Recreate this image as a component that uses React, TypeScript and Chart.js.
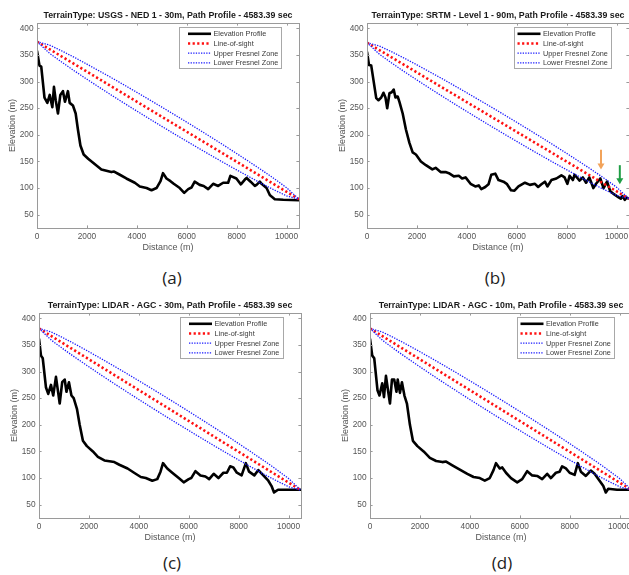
import React, { useEffect, useRef } from "react";
import { Chart, registerables } from "chart.js";

Chart.register(...registerables);

// ---------- data ----------
const TITLES = [
  "TerrainType: USGS - NED 1 - 30m, Path Profile - 4583.39 sec",
  "TerrainType: SRTM - Level 1 - 90m, Path Profile - 4583.39 sec",
  "TerrainType: LIDAR - AGC - 30m, Path Profile - 4583.39 sec",
  "TerrainType: LIDAR - AGC - 10m, Path Profile - 4583.39 sec",
];
const PANEL_TAGS = ["(a)", "(b)", "(c)", "(d)"];
const LEGEND_LABELS = ["Elevation Profile", "Line-of-sight", "Upper Fresnel Zone", "Lower Fresnel Zone"];
const X_LABEL = "Distance (m)";
const Y_LABEL = "Elevation (m)";
const X_TICKS = [0, 2000, 4000, 6000, 8000, 10000];
const Y_TICKS = [50, 100, 150, 200, 250, 300, 350, 400];

const A_DIST = [0,100,170,300,415,510,615,680,750,840,935,1040,1120,1240,1310,1440,1550,1640,1740,1870,2050,2310,2580,2980,3090,3320,3580,3920,4120,4390,4590,4790,4950,5050,5190,5350,5480,5720,5900,6060,6190,6320,6520,6680,6860,7060,7260,7460,7660,7750,7990,8170,8330,8400,8560,8730,8800,8930,9000,9200,9330,9400,9530,9870,10500];
const A_ELEV = [358,330,328,270,260,275,252,290,265,240,275,282,262,282,260,255,240,210,180,163,155,145,135,130,131,125,118,110,103,100,96,100,113,128,118,113,108,100,91,98,101,112,106,104,98,108,104,110,110,123,118,107,116,119,112,104,106,112,108,100,87,84,79,78,77];

const B_DIST = [0,80,170,370,460,570,660,740,810,900,990,1070,1140,1230,1300,1430,1560,1700,1830,1960,2160,2360,2620,2750,2950,3150,3280,3480,3680,3810,3950,4150,4340,4480,4580,4740,4870,4980,5140,5270,5470,5600,5770,5910,6070,6330,6530,6730,6860,6990,7130,7230,7390,7590,7790,7920,8030,8120,8250,8320,8520,8650,8780,8910,9070,9180,9350,9480,9620,9750,9910,10070,10170,10240,10330,10410,10500];
const B_ELEV = [356,331,330,269,265,270,279,270,250,278,280,285,270,272,262,240,210,185,167,163,150,143,135,138,130,130,128,122,123,118,120,108,103,105,98,102,107,125,127,115,112,108,96,95,103,110,106,108,102,107,112,103,115,118,124,120,108,123,115,125,114,120,110,120,100,108,118,100,112,94,88,83,80,85,78,82,80];

const C_DIST = [0,80,150,280,370,480,570,680,770,830,930,1030,1100,1200,1300,1390,1520,1630,1760,1920,2160,2360,2620,2890,3020,3220,3550,3810,4080,4280,4540,4740,4870,4970,5140,5340,5600,5800,6000,6100,6270,6470,6670,6820,7000,7190,7390,7530,7660,7790,7930,8120,8290,8420,8630,8790,8990,9190,9320,9420,9580,9970,10500];
const C_ELEV = [362,330,325,270,258,275,255,290,260,240,280,285,262,280,255,250,230,200,170,160,150,140,133,131,130,125,118,110,102,100,95,98,112,128,118,110,100,92,98,100,113,105,103,98,108,100,110,110,122,120,110,105,128,112,105,115,105,95,85,73,78,78,78];

const D_DIST = [0,90,170,300,380,490,560,640,730,800,880,970,1060,1110,1200,1280,1380,1480,1600,1720,1900,2150,2400,2650,2900,3050,3300,3600,3900,4150,4400,4600,4800,4950,5050,5200,5300,5450,5650,5900,6100,6300,6500,6700,6900,7100,7250,7450,7600,7700,7850,8000,8200,8330,8450,8650,8850,9000,9200,9350,9450,9550,9900,10500];
const D_ELEV = [362,330,325,265,255,278,252,292,262,240,285,285,262,285,260,280,255,240,200,170,160,150,138,132,130,131,124,116,108,102,100,95,100,115,128,118,120,110,100,92,98,113,105,104,98,108,100,110,112,122,118,110,106,128,112,104,114,108,95,85,73,80,78,78];

const LOS_DIST = [0, 10500];
const A_LOS = [375, 79];
const B_LOS = [373, 80];
const CD_LOS = [381, 77];

const FZ_DIST = [0,500,1000,1500,2000,2500,3000,3500,4000,4500,5000,5500,6000,6500,7000,7500,8000,8500,9000,9500,10000,10500];
const A_UPPER = [375,368.6,357.4,345.4,332.8,319.9,306.8,293.4,279.8,266.0,252.1,238.0,223.8,209.4,194.8,180.0,164.9,149.6,134.0,117.8,100.8,79];
const A_LOWER = [375,353.2,336.2,320.0,304.4,289.1,274.0,259.2,244.6,230.2,215.9,201.8,188.0,174.2,160.6,147.2,134.1,121.2,108.6,96.6,85.4,79];
const B_UPPER = [373,366.7,355.7,343.8,331.4,318.6,305.7,292.4,279.0,265.3,251.6,237.6,223.5,209.2,194.8,180.1,165.2,150.0,134.6,118.5,101.7,80];
const B_LOWER = [373,351.3,334.5,318.4,303.0,287.8,272.9,258.2,243.8,229.5,215.4,201.4,187.7,174.0,160.6,147.3,134.4,121.6,109.2,97.3,86.3,80];
const CD_UPPER = [381,374.2,362.6,350.3,337.3,324.0,310.5,296.8,282.8,268.6,254.3,239.9,225.2,210.4,195.4,180.3,164.8,149.1,133.1,116.6,99.2,77];
const CD_LOWER = [381,358.8,341.4,324.9,308.9,293.2,277.7,262.6,247.6,232.8,218.1,203.7,189.4,175.2,161.2,147.5,134.0,120.7,107.7,95.4,83.8,77];

// arrows in panel (b): [distance, tail elevation, head elevation]
const B_ARROW_ORANGE = [9377, 172, 135];
const B_ARROW_GREEN = [10132, 143, 107];

// ---------- styling ----------
const FONT = "'Liberation Sans', Arial, sans-serif";
const TICK_COLOR = "#555555";
const CW = 310;
const CH = 258;

const STYLES = [
  { color: "#000000", width: 2.6, dash: [] as number[] },
  { color: "#ff1010", width: 2.6, dash: [2.2, 2.4] },
  { color: "#1a1aff", width: 1.3, dash: [1.3, 1.3] },
  { color: "#1a1aff", width: 1.3, dash: [1.3, 1.3] },
];

function pts(xs: number[], ys: number[]) {
  const n = Math.min(xs.length, ys.length);
  const out: { x: number; y: number }[] = [];
  for (let i = 0; i < n; i++) out.push({ x: xs[i], y: ys[i] });
  return out;
}

type PanelProps = {
  left: number;
  top: number;
  title: string;
  dist: number[];
  elev: number[];
  los: number[];
  upper: number[];
  lower: number[];
  legendW: number;
  legendPad: number;
  arrows?: { v: number[]; color: string }[];
};

function Panel(p: PanelProps) {
  const ref = useRef<HTMLCanvasElement>(null);
  useEffect(() => {
    const framePlugin = {
      id: "frame",
      afterDatasetsDraw(chart: any) {
        const { ctx, chartArea: a, scales } = chart;
        ctx.save();
        ctx.strokeStyle = "#9a9a9a";
        ctx.lineWidth = 1;
        ctx.setLineDash([]);
        ctx.strokeRect(Math.round(a.left) + 0.5, Math.round(a.top) + 0.5, Math.round(a.right - a.left), Math.round(a.bottom - a.top));
        const tl = 2.6;
        ctx.beginPath();
        for (const t of scales.x.ticks) {
          const x = Math.round(scales.x.getPixelForValue(t.value)) + 0.5;
          ctx.moveTo(x, a.bottom); ctx.lineTo(x, a.bottom - tl);
          ctx.moveTo(x, a.top); ctx.lineTo(x, a.top + tl);
        }
        for (const t of scales.y.ticks) {
          const y = Math.round(scales.y.getPixelForValue(t.value)) + 0.5;
          ctx.moveTo(a.left, y); ctx.lineTo(a.left + tl, y);
          ctx.moveTo(a.right, y); ctx.lineTo(a.right - tl, y);
        }
        ctx.stroke();

        // arrows
        if (p.arrows) {
          for (const ar of p.arrows) {
            const x = scales.x.getPixelForValue(ar.v[0]);
            const y0 = scales.y.getPixelForValue(ar.v[1]);
            const y1 = scales.y.getPixelForValue(ar.v[2]);
            ctx.strokeStyle = ar.color;
            ctx.fillStyle = ar.color;
            ctx.lineWidth = 2;
            ctx.beginPath();
            ctx.moveTo(x, y0); ctx.lineTo(x, y1 - 5);
            ctx.stroke();
            ctx.beginPath();
            ctx.moveTo(x - 3.5, y1 - 6);
            ctx.lineTo(x + 3.5, y1 - 6);
            ctx.lineTo(x, y1);
            ctx.closePath();
            ctx.fill();
          }
        }

        // legend
        const bw = p.legendW, bh = 41;
        const bx = Math.round(a.right - 18 - bw) + 0.5;
        const by = Math.round(a.top + 4) + 0.5;
        ctx.fillStyle = "#ffffff";
        ctx.fillRect(bx, by, bw, bh);
        ctx.strokeStyle = "#a8a8a8";
        ctx.lineWidth = 1;
        ctx.strokeRect(bx, by, bw, bh);
        ctx.font = `7.3px ${FONT}`;
        ctx.textBaseline = "middle";
        ctx.textAlign = "left";
        for (let i = 0; i < 4; i++) {
          const y = by + 6.3 + i * 9.7;
          const s = STYLES[i];
          ctx.strokeStyle = s.color;
          ctx.lineWidth = s.width;
          ctx.setLineDash(s.dash);
          ctx.beginPath();
          ctx.moveTo(bx + p.legendPad, y);
          ctx.lineTo(bx + p.legendPad + 23, y);
          ctx.stroke();
          ctx.setLineDash([]);
          ctx.fillStyle = "#3a3a3a";
          ctx.fillText(LEGEND_LABELS[i], bx + p.legendPad + 25.5, y + 0.3);
        }

        // title
        ctx.font = `bold 8.8px ${FONT}`;
        ctx.fillStyle = "#1a1a1a";
        ctx.textAlign = "center";
        ctx.textBaseline = "middle";
        ctx.fillText(p.title, (a.left + a.right) / 2, a.top - 7.5);
        ctx.restore();
      },
    };

    const chart = new Chart(ref.current as HTMLCanvasElement, {
      type: "line",
      data: {
        datasets: [
          {
            label: LEGEND_LABELS[2],
            data: pts(FZ_DIST, p.upper),
            borderColor: STYLES[2].color,
            borderWidth: STYLES[2].width,
            borderDash: STYLES[2].dash,
            pointRadius: 0,
            tension: 0,
            order: 1,
          },
          {
            label: LEGEND_LABELS[3],
            data: pts(FZ_DIST, p.lower),
            borderColor: STYLES[3].color,
            borderWidth: STYLES[3].width,
            borderDash: STYLES[3].dash,
            pointRadius: 0,
            tension: 0,
            order: 2,
          },
          {
            label: LEGEND_LABELS[1],
            data: pts(LOS_DIST, p.los),
            borderColor: STYLES[1].color,
            borderWidth: STYLES[1].width,
            borderDash: STYLES[1].dash,
            pointRadius: 0,
            tension: 0,
            order: 3,
          },
          {
            label: LEGEND_LABELS[0],
            data: pts(p.dist, p.elev),
            borderColor: STYLES[0].color,
            borderWidth: STYLES[0].width,
            borderJoinStyle: "round",
            pointRadius: 0,
            tension: 0,
            order: 4,
          },
        ],
      } as any,
      options: {
        animation: false,
        responsive: false,
        layout: { padding: { top: 23, right: CW - 37 - 262, left: 0, bottom: 0 } },
        plugins: {
          legend: { display: false },
          tooltip: { enabled: false },
          title: { display: false },
        },
        scales: {
          x: {
            type: "linear",
            min: 0,
            max: 10500,
            grid: { display: false, drawTicks: false },
            border: { display: false },
            afterBuildTicks: (s: any) => { s.ticks = X_TICKS.map((v) => ({ value: v })); },
            ticks: {
              autoSkip: false,
              maxRotation: 0,
              padding: 4,
              color: TICK_COLOR,
              font: { family: FONT, size: 8.3 },
              callback: (v: any) => String(v),
            },
            title: {
              display: true,
              text: X_LABEL,
              color: TICK_COLOR,
              font: { family: FONT, size: 9 },
              padding: { top: 0, bottom: 4.6 },
            },
            afterFit: (s: any) => { s.height = 30; },
          },
          y: {
            type: "linear",
            min: 25,
            max: 410,
            grid: { display: false, drawTicks: false },
            border: { display: false },
            afterBuildTicks: (s: any) => { s.ticks = Y_TICKS.map((v) => ({ value: v })); },
            ticks: {
              autoSkip: false,
              padding: 3.5,
              color: TICK_COLOR,
              font: { family: FONT, size: 8.3 },
              callback: (v: any) => String(v),
            },
            title: {
              display: true,
              text: Y_LABEL,
              color: TICK_COLOR,
              font: { family: FONT, size: 9 },
              padding: { top: 7.6, bottom: 0 },
            },
            afterFit: (s: any) => { s.width = 37; },
          },
        },
      } as any,
      plugins: [framePlugin],
    });
    return () => chart.destroy();
  }, []);
  return (
    <canvas
      ref={ref}
      width={CW}
      height={CH}
      style={{ position: "absolute", left: p.left, top: p.top, width: CW, height: CH }}
    />
  );
}

function Tag({ text, x, y }: { text: string; x: number; y: number }) {
  return (
    <div
      style={{
        position: "absolute",
        left: x,
        top: y,
        transform: "translate(-50%, -50%)",
        fontFamily: "'Open Sans', sans-serif",
        fontSize: 17,
        lineHeight: 1,
        color: "#222",
        whiteSpace: "nowrap",
      }}
    >
      {text}
    </div>
  );
}

export default function App() {
  return (
    <div
      style={{
        position: "fixed",
        left: 0,
        top: 0,
        width: 629,
        height: 575,
        overflow: "hidden",
        background: "#ffffff",
      }}
    >
      <Panel left={0} top={0} title={TITLES[0]} dist={A_DIST} elev={A_ELEV} los={A_LOS} upper={A_UPPER} lower={A_LOWER} legendW={102} legendPad={8.5} />
      <Panel
        left={330.3}
        top={0}
        title={TITLES[1]}
        dist={B_DIST}
        elev={B_ELEV}
        los={B_LOS}
        upper={B_UPPER}
        lower={B_LOWER}
        legendW={97}
        legendPad={3}
        arrows={[
          { v: B_ARROW_ORANGE, color: "#f2a35a" },
          { v: B_ARROW_GREEN, color: "#1f9e45" },
        ]}
      />
      <Panel left={2} top={290.3} title={TITLES[2]} dist={C_DIST} elev={C_ELEV} los={CD_LOS} upper={CD_UPPER} lower={CD_LOWER} legendW={103} legendPad={8.5} />
      <Panel left={333} top={290.3} title={TITLES[3]} dist={D_DIST} elev={D_ELEV} los={CD_LOS} upper={CD_UPPER} lower={CD_LOWER} legendW={97} legendPad={3} />
      <Tag text={PANEL_TAGS[0]} x={172} y={277} />
      <Tag text={PANEL_TAGS[1]} x={495} y={277} />
      <Tag text={PANEL_TAGS[2]} x={172} y={562} />
      <Tag text={PANEL_TAGS[3]} x={502} y={562} />
    </div>
  );
}
